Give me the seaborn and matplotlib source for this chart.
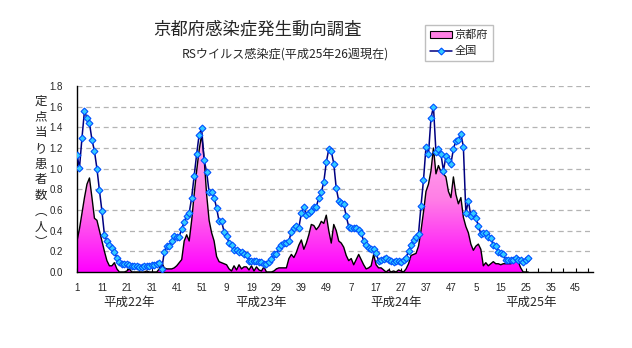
import numpy as np
import pandas as pd
import matplotlib
matplotlib.use("Agg")
import matplotlib.pyplot as plt
import seaborn as sns
from matplotlib.patches import Patch
from matplotlib.lines import Line2D
from matplotlib.colors import LinearSegmentedColormap

# ---- data (weekly, 平成22年第1週 .. 平成25年第26週) ----
national = [
    1.13, 1.01, 1.30, 1.56, 1.49, 1.44, 1.28, 1.17, 1.00, 0.79,
    0.59, 0.36, 0.30, 0.26, 0.23, 0.19, 0.14, 0.10, 0.08, 0.08,
    0.08, 0.07, 0.06, 0.06, 0.06, 0.05, 0.05, 0.06, 0.06, 0.06,
    0.07, 0.07, 0.08, 0.09, 0.03, 0.19, 0.25, 0.25, 0.30, 0.35,
    0.34, 0.34, 0.42, 0.48, 0.54, 0.57, 0.72, 0.93, 1.14, 1.33,
    1.39, 1.08, 0.97, 0.77, 0.77, 0.72, 0.62, 0.49, 0.49, 0.39,
    0.35, 0.28, 0.26, 0.21, 0.21, 0.19, 0.19, 0.17, 0.16, 0.11,
    0.11, 0.11, 0.11, 0.10, 0.10, 0.08, 0.08, 0.10, 0.13, 0.17,
    0.17, 0.23, 0.26, 0.28, 0.28, 0.30, 0.39, 0.43, 0.45, 0.43,
    0.57, 0.63, 0.55, 0.57, 0.59, 0.63, 0.63, 0.72, 0.77, 0.87,
    1.06, 1.19, 1.17, 1.05, 0.81, 0.69, 0.67, 0.66, 0.54, 0.44,
    0.43, 0.43, 0.43, 0.41, 0.38, 0.30, 0.26, 0.23, 0.22, 0.22,
    0.18, 0.11, 0.12, 0.13, 0.14, 0.12, 0.11, 0.10, 0.11, 0.11,
    0.10, 0.12, 0.14, 0.20, 0.26, 0.31, 0.34, 0.37, 0.64, 0.89,
    1.21, 1.14, 1.49, 1.60, 1.16, 1.19, 1.14, 0.98, 1.12, 1.08,
    1.05, 1.19, 1.27, 1.28, 1.34, 1.21, 0.57, 0.69, 0.54, 0.57,
    0.52, 0.45, 0.37, 0.38, 0.38, 0.34, 0.33, 0.26, 0.25, 0.19,
    0.18, 0.17, 0.12, 0.12, 0.12, 0.12, 0.14, 0.12, 0.12, 0.10,
    0.12, 0.14,
]
kyoto = [
    0.30, 0.42, 0.57, 0.72, 0.85, 0.91, 0.72, 0.52, 0.50, 0.40,
    0.30, 0.20, 0.11, 0.06, 0.06, 0.09, 0.03, 0.00, 0.00, 0.00,
    0.01, 0.03, 0.00, 0.00, 0.00, 0.00, 0.00, 0.00, 0.01, 0.00,
    0.00, 0.00, 0.00, 0.03, 0.09, 0.04, 0.03, 0.03, 0.03, 0.04,
    0.06, 0.09, 0.12, 0.30, 0.36, 0.30, 0.50, 0.75, 0.98, 1.18,
    1.33, 1.10, 0.75, 0.50, 0.38, 0.30, 0.15, 0.10, 0.09, 0.08,
    0.07, 0.03, 0.01, 0.06, 0.02, 0.07, 0.03, 0.05, 0.05, 0.02,
    0.06, 0.01, 0.05, 0.02, 0.01, 0.05, 0.00, 0.00, 0.00, 0.01,
    0.03, 0.04, 0.04, 0.04, 0.04, 0.13, 0.17, 0.14, 0.19, 0.26,
    0.31, 0.22, 0.28, 0.36, 0.46, 0.45, 0.41, 0.44, 0.49, 0.47,
    0.55, 0.40, 0.28, 0.46, 0.40, 0.30, 0.28, 0.24, 0.16, 0.11,
    0.13, 0.07, 0.12, 0.17, 0.12, 0.07, 0.03, 0.04, 0.06, 0.17,
    0.07, 0.04, 0.04, 0.02, 0.00, 0.02, 0.00, 0.01, 0.00, 0.02,
    0.01, 0.00, 0.03, 0.08, 0.16, 0.17, 0.18, 0.25, 0.40, 0.58,
    0.78, 0.85, 0.98, 1.20, 0.95, 1.03, 0.97, 0.95, 0.92, 0.78,
    0.72, 0.92, 0.75, 0.66, 0.72, 0.53, 0.44, 0.38, 0.27, 0.21,
    0.25, 0.27, 0.22, 0.06, 0.09, 0.06, 0.08, 0.10, 0.08, 0.08,
    0.07, 0.08, 0.08, 0.08, 0.08, 0.11, 0.14, 0.10, 0.04, 0.00,
    0.00, 0.00,
]
x_tick_labels = ["1", "11", "21", "31", "41", "51", "9", "19", "29", "39", "49",
                 "7", "17", "27", "37", "47", "5", "15", "25", "35", "45"]
y_ticks = [0.0, 0.2, 0.4, 0.6, 0.8, 1.0, 1.2, 1.4, 1.6, 1.8]
year_labels = ["平成22年", "平成23年", "平成24年", "平成25年"]
year_label_weeks = [22, 75, 129, 183]
series_names = ["京都府", "全国"]
title = "京都府感染症発生動向調査"
subtitle = "RSウイルス感染症(平成25年26週現在)"
ylabel_chars = ["定", "点", "当", "り", "患", "者", "数", "︵", "人", "︶"]

# ---- style ----
sns.set_theme(style="white")
FAM = ["Noto Sans CJK JP", "DejaVu Sans"]
NUM = ["Liberation Sans", "DejaVu Sans"]
plt.rcParams["font.family"] = FAM

W, H = 632, 348
fig = plt.figure(figsize=(W / 100, H / 100), dpi=100)
fig.patch.set_facecolor("white")
L, R, T, B = 77, 593, 86, 272
ax = fig.add_axes([L / W, 1 - B / H, (R - L) / W, (B - T) / H])
ax.set_facecolor("white")

df = pd.DataFrame({
    "week": np.arange(1, len(national) + 1),
    "national": national,
    "kyoto": kyoto,
})

# gradient-filled area for Kyoto
poly = ax.fill_between(df["week"], 0, df["kyoto"], facecolor="none",
                       edgecolor="none", zorder=1)
cmap = LinearSegmentedColormap.from_list("pk", ["#ff00ff", "#ff7ee6", "#ffb4ee"])
grad = np.linspace(0, 1, 256).reshape(-1, 1)
im = ax.imshow(grad, extent=[1, 208, 0, 1.4], origin="lower", aspect="auto",
               cmap=cmap, zorder=1, interpolation="bilinear")
im.set_clip_path(poly.get_paths()[0], transform=ax.transData)

sns.lineplot(data=df, x="week", y="kyoto", color="black", lw=1.0, ax=ax,
             zorder=2, legend=False)
sns.lineplot(data=df, x="week", y="national", color="#000080", lw=1.1,
             marker="D", markersize=3.5, markerfacecolor="#33ccff",
             markeredgecolor="#0050ff", markeredgewidth=0.8, ax=ax,
             zorder=4, legend=False)

ax.set_xlim(1, 208)
ax.set_ylim(0, 1.8)
ax.set_xlabel("")
ax.set_ylabel("")

# axes / ticks
ax.set_xticks(list(range(1, 202, 10)))
ax.set_xticklabels(x_tick_labels, fontsize=7, family=NUM)
ax.set_xticks(list(range(6, 208, 5)), minor=True)
ax.set_yticks(y_ticks)
ax.set_yticklabels([f"{v:.1f}" for v in y_ticks], fontsize=7, family=NUM)
ax.tick_params(axis="x", which="both", direction="in", length=3, width=0.8,
               color="black", pad=8, bottom=True)
ax.tick_params(axis="y", direction="in", length=0, pad=10, left=True)
for s in ["top", "right"]:
    ax.spines[s].set_visible(False)
for s in ["left", "bottom"]:
    ax.spines[s].set_color("black")
    ax.spines[s].set_linewidth(1.0)
ax.yaxis.grid(True, linestyle=(0, (4, 3)), color="#b4b4b4", lw=0.9)
ax.xaxis.grid(False)
ax.set_axisbelow(True)

# year labels
for lab, wk in zip(year_labels, year_label_weeks):
    ax.text(wk, -0.165, lab, transform=ax.get_xaxis_transform(), ha="center",
            va="center", fontsize=9, family=FAM)

# y label (vertical stacked characters)
for k, ch in enumerate(ylabel_chars):
    fig.text(40.5 / W, 1 - (101.5 + k * 15.7) / H, ch, ha="center", va="center",
             fontsize=9, family=FAM)

# titles
fig.text(257 / W, 1 - 29 / H, title, ha="center", va="center", fontsize=12.5,
         family=FAM)
fig.text(285 / W, 1 - 54 / H, subtitle, ha="center", va="center", fontsize=8.7,
         family=FAM)

# legend
handles = [
    Patch(facecolor="#ff80e4", edgecolor="black", linewidth=0.8),
    Line2D([], [], color="#000080", lw=1.1, marker="D", markersize=3.5,
           markerfacecolor="#33ccff", markeredgecolor="#0050ff",
           markeredgewidth=0.8),
]
leg = fig.legend(handles, series_names, loc="upper left",
                 bbox_to_anchor=(425 / W, 1 - 25 / H), frameon=True,
                 fancybox=False, prop={"family": FAM, "size": 8},
                 handlelength=2.0, handleheight=0.6, handletextpad=0.2,
                 borderpad=0.45, labelspacing=0.55, borderaxespad=0)
leg.get_frame().set_edgecolor("#b0b0b0")
leg.get_frame().set_linewidth(1.0)

fig.savefig("out.png", dpi=100, facecolor="white")
